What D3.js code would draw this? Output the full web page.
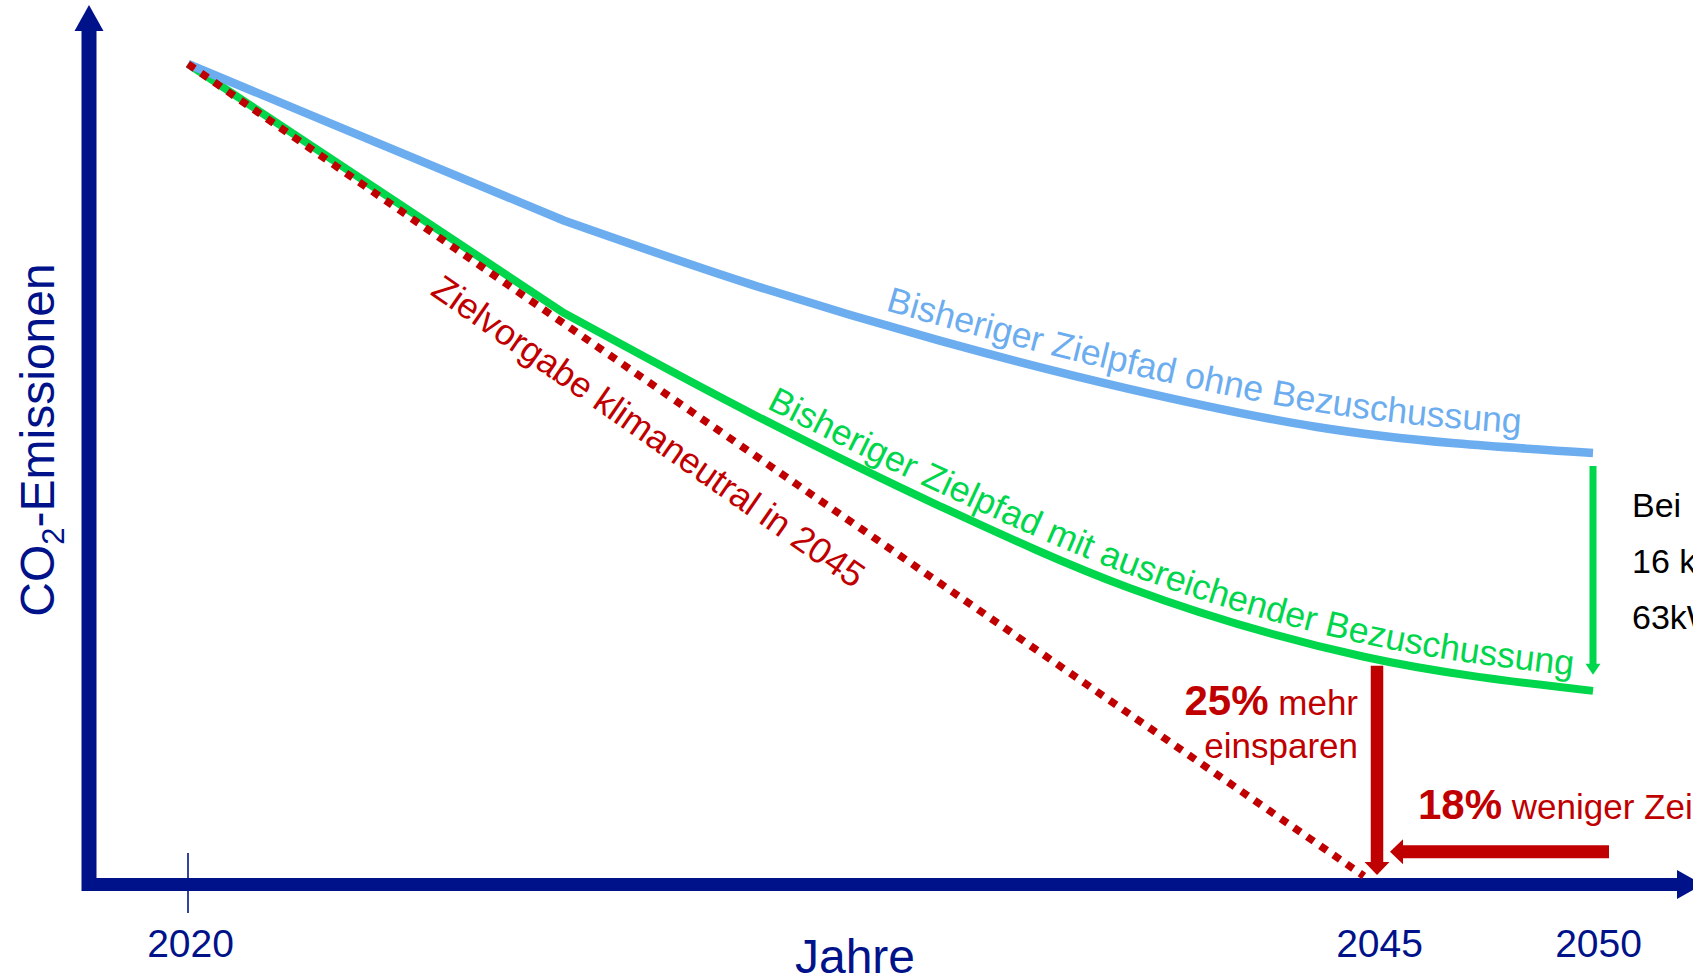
<!DOCTYPE html>
<html>
<head>
<meta charset="utf-8">
<script src="https://cdn.jsdelivr.net/npm/d3@7"></script>
<style>
  html, body { margin: 0; padding: 0; background: #fff; overflow: hidden; }
  svg { display: block; font-family: "Liberation Sans", Arial, sans-serif; }
</style>
</head>
<body>
<div id="chart"></div>
<script>
// Achsenbeschriftung
const tickYears = [2020, 2045, 2050];

// Bisheriger Zielpfad ohne Bezuschussung (blau)
const blueYears  = [2020, 2028, 2032, 2036, 2040, 2044, 2050];
const blueValues = [100, 80.7, 72.8, 65.9, 60.0, 55.3, 52.1];

// Bisheriger Zielpfad mit ausreichender Bezuschussung (grün)
const greenYears  = [2020, 2028, 2032, 2036, 2040, 2045, 2050];
const greenValues = [100, 69.3, 56.9, 45.5, 35.5, 27.0, 22.8];

// Zielvorgabe klimaneutral in 2045 (rot, gepunktet)
const redYears  = [2020, 2045];
const redValues = [100, 0];

// Texte
const blueLabel  = "Bisheriger Zielpfad ohne Bezuschussung";
const greenLabel = "Bisheriger Zielpfad mit ausreichender Bezuschussung";
const redLabel   = "Zielvorgabe klimaneutral in 2045";
const infoLines  = ["Bei", "16 k", "63kW"];

const NAVY  = "#00128A";
const BLUE  = "#6CADEF";
const GREEN = "#00D64B";
const RED   = "#C00000";

const width = 1693, height = 978;

const svg = d3.select("#chart").append("svg")
  .attr("width", width)
  .attr("height", height);

// Skalen
const x = d3.scaleLinear().domain([2020, 2045, 2050]).range([188, 1364, 1593]);
const y = d3.scaleLinear().domain([0, 100]).range([876, 64]);

// Pfeil-Helfer: Schaft + Spitze
function arrow(g, x1, y1, x2, y2, w, headW, headL, color) {
  const dx = x2 - x1, dy = y2 - y1;
  const len = Math.hypot(dx, dy);
  const ux = dx / len, uy = dy / len;
  const bx = x2 - ux * headL, by = y2 - uy * headL;
  g.append("line")
    .attr("x1", x1).attr("y1", y1)
    .attr("x2", bx + ux * 1).attr("y2", by + uy * 1)
    .attr("stroke", color)
    .attr("stroke-width", w);
  g.append("polygon")
    .attr("points", [
      [bx - uy * headW / 2, by + ux * headW / 2],
      [bx + uy * headW / 2, by - ux * headW / 2],
      [x2, y2]
    ].map(p => p.join(",")).join(" "))
    .attr("fill", color);
}

// Linie: erstes Stück gerade, danach glatt
function pathD(xs, vs, shift) {
  const pts = xs.map((yr, i) => [x(yr), y(vs[i]) - shift]);
  const curved = d3.line().curve(d3.curveMonotoneX)(pts.slice(1));
  return `M${pts[0][0]},${pts[0][1]}L` + curved.slice(1);
}

function lengthAtX(node, tx) {
  let lo = 0, hi = node.getTotalLength();
  for (let i = 0; i < 40; i++) {
    const mid = (lo + hi) / 2;
    if (node.getPointAtLength(mid).x < tx) lo = mid; else hi = mid;
  }
  return lo;
}

// Achsen
const axes = svg.append("g");
arrow(axes, 89, 891, 89, 5, 15, 29, 26, NAVY);
arrow(axes, 82, 884.5, 1703, 884.5, 13, 29, 26, NAVY);

// Tick bei 2020
axes.append("line")
  .attr("x1", x(2020)).attr("x2", x(2020))
  .attr("y1", 853).attr("y2", 913)
  .attr("stroke", NAVY)
  .attr("stroke-width", 1.6);

const labelNudge = { 2020: 2, 2045: 15, 2050: 5 };
const xAxis = svg.append("g")
  .attr("transform", "translate(0,884)")
  .call(d3.axisBottom(x).tickValues(tickYears).tickSize(0).tickPadding(45).tickFormat(d3.format("d")));
xAxis.select(".domain").remove();
xAxis.selectAll("text")
  .attr("dx", d => labelNudge[d])
  .attr("fill", NAVY)
  .style("font-size", "39px")
  .style("font-family", "'Liberation Sans', Arial, sans-serif");

svg.append("text")
  .attr("x", 855).attr("y", 973)
  .attr("text-anchor", "middle")
  .attr("fill", NAVY)
  .style("font-size", "48px")
  .text("Jahre");

const yLab = svg.append("text")
  .attr("transform", "translate(54,440) rotate(-90)")
  .attr("text-anchor", "middle")
  .attr("fill", NAVY)
  .style("font-size", "48px");
yLab.append("tspan").text("CO");
yLab.append("tspan").attr("dy", 10).style("font-size", "31px").text("2");
yLab.append("tspan").attr("dy", -10).text("-Emissionen");

// Linien
const lines = svg.append("g").attr("fill", "none");
lines.append("path")
  .attr("d", pathD(greenYears, greenValues, 0))
  .attr("stroke", GREEN)
  .attr("stroke-width", 8);
lines.append("path")
  .attr("d", pathD(blueYears, blueValues, 0))
  .attr("stroke", BLUE)
  .attr("stroke-width", 8.5);
lines.append("path")
  .attr("d", d3.line()(redYears.map((yr, i) => [x(yr), y(redValues[i])])))
  .attr("stroke", RED)
  .attr("stroke-width", 7.5)
  .attr("stroke-dasharray", "8 8");

// Beschriftung entlang der Kurven
const defs = svg.append("defs");
const bluePath = defs.append("path").attr("id", "blue-lab").attr("d", pathD(blueYears, blueValues, 15));
const greenPath = defs.append("path").attr("id", "green-lab").attr("d", pathD(greenYears, greenValues, 13));

svg.append("text")
  .attr("fill", BLUE)
  .style("font-size", "35.7px")
  .append("textPath")
  .attr("href", "#blue-lab")
  .attr("startOffset", lengthAtX(bluePath.node(), 885))
  .text(blueLabel);

svg.append("text")
  .attr("fill", GREEN)
  .style("font-size", "35.8px")
  .append("textPath")
  .attr("href", "#green-lab")
  .attr("startOffset", lengthAtX(greenPath.node(), 766))
  .text(greenLabel);

// rote Beschriftung parallel zur gepunkteten Linie
const p0 = [x(redYears[0]), y(redValues[0])], p1 = [x(redYears[1]), y(redValues[1])];
const ang = Math.atan2(p1[1] - p0[1], p1[0] - p0[0]);
const ux = Math.cos(ang), uy = Math.sin(ang);
const along = 329, off = 52;
const px = p0[0] + along * ux - off * uy;
const py = p0[1] + along * uy + off * ux;
svg.append("text")
  .attr("transform", `translate(${px},${py}) rotate(${ang * 180 / Math.PI + 0.2})`)
  .attr("fill", RED)
  .style("font-size", "35.8px")
  .text(redLabel);

// Pfeile
const ann = svg.append("g");
arrow(ann, x(2050), y(blueValues[blueValues.length - 1]) + 13,
           x(2050), y(greenValues[greenValues.length - 1]) - 16, 7, 15, 11, GREEN);
arrow(ann, x(2045) + 13, y(greenValues[5]) + 9, x(2045) + 13, y(0) - 1, 12.5, 25, 13, RED);
arrow(ann, x(2050) + 16, y(3), x(2045) + 26, y(3), 13, 25, 13, RED);

// Texte rechts
const t1 = svg.append("text")
  .attr("x", 1358).attr("y", 715)
  .attr("text-anchor", "end")
  .attr("fill", RED)
  .style("font-size", "35px");
t1.append("tspan").style("font-weight", "bold").style("font-size", "42px").text("25%");
t1.append("tspan").text(" mehr");

svg.append("text")
  .attr("x", 1358).attr("y", 758)
  .attr("text-anchor", "end")
  .attr("fill", RED)
  .style("font-size", "35px")
  .text("einsparen");

const t2 = svg.append("text")
  .attr("x", 1418).attr("y", 819)
  .attr("fill", RED)
  .style("font-size", "35px");
t2.append("tspan").style("font-weight", "bold").style("font-size", "42px").text("18%");
t2.append("tspan").text(" weniger Zeit");

svg.append("g").selectAll("text")
  .data(infoLines)
  .enter()
  .append("text")
  .attr("x", 1632)
  .attr("y", (d, i) => 517 + i * 56)
  .attr("fill", "#000")
  .style("font-size", "34px")
  .text(d => d);
</script>
</body>
</html>
